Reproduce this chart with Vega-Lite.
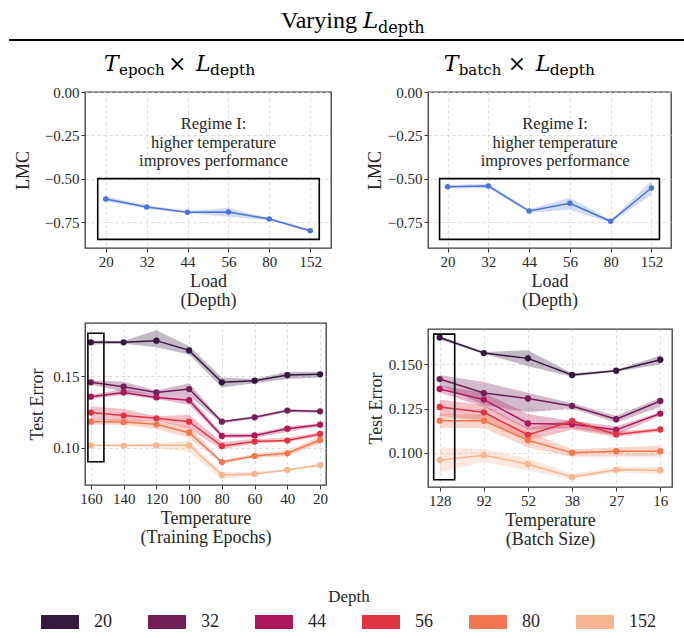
{
"$schema":"https://vega.github.io/schema/vega-lite/v6.json",
"background":"white",
"padding":{"left":8,"top":0,"right":0,"bottom":0},
"config":{
 "font":"Liberation Serif",
 "view":{"stroke":"#3a3a3a","strokeWidth":1.3},
 "axis":{"domain":false,"grid":true,"gridDash":[3,3],"gridColor":"#d0d0d0","gridWidth":0.8,"ticks":true,"tickSize":4,"tickColor":"#333","tickWidth":1,"labelFont":"Liberation Serif","labelFontSize":15,"labelColor":"#262626","labelPadding":2,"titleFont":"Liberation Serif","titleFontSize":18,"titleFontWeight":"normal","titleColor":"#262626","titleLineHeight":19,"titlePadding":3},
 "text":{"font":"Liberation Serif","color":"#1a1a1a"}
},
"datasets":{
 "lmcE":[
  {"d":20,"m":-0.617,"lo":-0.632,"hi":-0.602},
  {"d":32,"m":-0.664,"lo":-0.674,"hi":-0.654},
  {"d":44,"m":-0.694,"lo":-0.700,"hi":-0.688},
  {"d":56,"m":-0.692,"lo":-0.720,"hi":-0.668},
  {"d":80,"m":-0.733,"lo":-0.740,"hi":-0.727},
  {"d":152,"m":-0.800,"lo":-0.808,"hi":-0.792}],
 "lmcB":[
  {"d":20,"m":-0.546,"lo":-0.556,"hi":-0.536},
  {"d":32,"m":-0.542,"lo":-0.556,"hi":-0.530},
  {"d":44,"m":-0.687,"lo":-0.697,"hi":-0.677},
  {"d":56,"m":-0.642,"lo":-0.680,"hi":-0.610},
  {"d":80,"m":-0.746,"lo":-0.754,"hi":-0.738},
  {"d":152,"m":-0.554,"lo":-0.594,"hi":-0.512}],
 "errE":[
  {"d":20,"t":160,"m":0.1735,"lo":0.172,"hi":0.175},
  {"d":20,"t":140,"m":0.1735,"lo":0.1725,"hi":0.1745},
  {"d":20,"t":120,"m":0.1747,"lo":0.170,"hi":0.182},
  {"d":20,"t":100,"m":0.1679,"lo":0.165,"hi":0.171},
  {"d":20,"t":80,"m":0.1456,"lo":0.142,"hi":0.149},
  {"d":20,"t":60,"m":0.1468,"lo":0.145,"hi":0.148},
  {"d":20,"t":40,"m":0.1507,"lo":0.148,"hi":0.153},
  {"d":20,"t":20,"m":0.1512,"lo":0.149,"hi":0.153},
  {"d":32,"t":160,"m":0.1456,"lo":0.144,"hi":0.147},
  {"d":32,"t":140,"m":0.1426,"lo":0.139,"hi":0.146},
  {"d":32,"t":120,"m":0.1386,"lo":0.137,"hi":0.140},
  {"d":32,"t":100,"m":0.1409,"lo":0.136,"hi":0.145},
  {"d":32,"t":80,"m":0.1182,"lo":0.117,"hi":0.119},
  {"d":32,"t":60,"m":0.1212,"lo":0.120,"hi":0.122},
  {"d":32,"t":40,"m":0.1259,"lo":0.125,"hi":0.127},
  {"d":32,"t":20,"m":0.1254,"lo":0.124,"hi":0.126},
  {"d":44,"t":160,"m":0.1356,"lo":0.134,"hi":0.137},
  {"d":44,"t":140,"m":0.1386,"lo":0.137,"hi":0.141},
  {"d":44,"t":120,"m":0.1351,"lo":0.134,"hi":0.137},
  {"d":44,"t":100,"m":0.1331,"lo":0.130,"hi":0.136},
  {"d":44,"t":80,"m":0.1082,"lo":0.107,"hi":0.110},
  {"d":44,"t":60,"m":0.1086,"lo":0.107,"hi":0.110},
  {"d":44,"t":40,"m":0.1133,"lo":0.111,"hi":0.115},
  {"d":44,"t":20,"m":0.1161,"lo":0.115,"hi":0.117},
  {"d":56,"t":160,"m":0.1245,"lo":0.120,"hi":0.129},
  {"d":56,"t":140,"m":0.1224,"lo":0.118,"hi":0.127},
  {"d":56,"t":120,"m":0.1205,"lo":0.119,"hi":0.122},
  {"d":56,"t":100,"m":0.1182,"lo":0.113,"hi":0.123},
  {"d":56,"t":80,"m":0.1012,"lo":0.099,"hi":0.104},
  {"d":56,"t":60,"m":0.1043,"lo":0.103,"hi":0.106},
  {"d":56,"t":40,"m":0.1050,"lo":0.104,"hi":0.107},
  {"d":56,"t":20,"m":0.1096,"lo":0.108,"hi":0.111},
  {"d":80,"t":160,"m":0.1182,"lo":0.116,"hi":0.120},
  {"d":80,"t":140,"m":0.1179,"lo":0.116,"hi":0.120},
  {"d":80,"t":120,"m":0.1163,"lo":0.113,"hi":0.119},
  {"d":80,"t":100,"m":0.1105,"lo":0.107,"hi":0.115},
  {"d":80,"t":80,"m":0.0900,"lo":0.089,"hi":0.091},
  {"d":80,"t":60,"m":0.0942,"lo":0.093,"hi":0.096},
  {"d":80,"t":40,"m":0.0961,"lo":0.094,"hi":0.098},
  {"d":80,"t":20,"m":0.1054,"lo":0.103,"hi":0.108},
  {"d":152,"t":160,"m":0.1017,"lo":0.101,"hi":0.102},
  {"d":152,"t":140,"m":0.1015,"lo":0.101,"hi":0.102},
  {"d":152,"t":120,"m":0.1017,"lo":0.100,"hi":0.103},
  {"d":152,"t":100,"m":0.1017,"lo":0.097,"hi":0.105},
  {"d":152,"t":80,"m":0.0810,"lo":0.078,"hi":0.083},
  {"d":152,"t":60,"m":0.0817,"lo":0.081,"hi":0.083},
  {"d":152,"t":40,"m":0.0845,"lo":0.084,"hi":0.085},
  {"d":152,"t":20,"m":0.0879,"lo":0.087,"hi":0.089}],
 "errB":[
  {"d":20,"t":128,"m":0.1652,"lo":0.164,"hi":0.166},
  {"d":20,"t":92,"m":0.1564,"lo":0.156,"hi":0.157},
  {"d":20,"t":52,"m":0.1534,"lo":0.149,"hi":0.158},
  {"d":20,"t":38,"m":0.1440,"lo":0.143,"hi":0.145},
  {"d":20,"t":27,"m":0.1464,"lo":0.146,"hi":0.147},
  {"d":20,"t":16,"m":0.1526,"lo":0.150,"hi":0.155},
  {"d":32,"t":128,"m":0.1417,"lo":0.138,"hi":0.144},
  {"d":32,"t":92,"m":0.1338,"lo":0.127,"hi":0.140},
  {"d":32,"t":52,"m":0.1307,"lo":0.123,"hi":0.134},
  {"d":32,"t":38,"m":0.1265,"lo":0.125,"hi":0.128},
  {"d":32,"t":27,"m":0.1190,"lo":0.117,"hi":0.121},
  {"d":32,"t":16,"m":0.1293,"lo":0.126,"hi":0.131},
  {"d":44,"t":128,"m":0.1361,"lo":0.134,"hi":0.138},
  {"d":44,"t":92,"m":0.1301,"lo":0.126,"hi":0.134},
  {"d":44,"t":52,"m":0.1166,"lo":0.113,"hi":0.122},
  {"d":44,"t":38,"m":0.1162,"lo":0.114,"hi":0.118},
  {"d":44,"t":27,"m":0.1130,"lo":0.110,"hi":0.115},
  {"d":44,"t":16,"m":0.1222,"lo":0.121,"hi":0.123},
  {"d":56,"t":128,"m":0.1259,"lo":0.121,"hi":0.130},
  {"d":56,"t":92,"m":0.1229,"lo":0.118,"hi":0.127},
  {"d":56,"t":52,"m":0.1101,"lo":0.107,"hi":0.114},
  {"d":56,"t":38,"m":0.1180,"lo":0.113,"hi":0.119},
  {"d":56,"t":27,"m":0.1104,"lo":0.109,"hi":0.112},
  {"d":56,"t":16,"m":0.1132,"lo":0.112,"hi":0.114},
  {"d":80,"t":128,"m":0.1182,"lo":0.114,"hi":0.122},
  {"d":80,"t":92,"m":0.1182,"lo":0.114,"hi":0.122},
  {"d":80,"t":52,"m":0.1071,"lo":0.103,"hi":0.112},
  {"d":80,"t":38,"m":0.1000,"lo":0.098,"hi":0.102},
  {"d":80,"t":27,"m":0.1009,"lo":0.098,"hi":0.103},
  {"d":80,"t":16,"m":0.1009,"lo":0.098,"hi":0.104},
  {"d":152,"t":128,"m":0.0959,"lo":0.089,"hi":0.103},
  {"d":152,"t":92,"m":0.0987,"lo":0.095,"hi":0.102},
  {"d":152,"t":52,"m":0.0936,"lo":0.090,"hi":0.097},
  {"d":152,"t":38,"m":0.0863,"lo":0.085,"hi":0.088},
  {"d":152,"t":27,"m":0.0904,"lo":0.089,"hi":0.092},
  {"d":152,"t":16,"m":0.0902,"lo":0.088,"hi":0.092}]
},
"spacing":4,
"vconcat":[
 {
  "width":600,"height":80,
  "view":{"stroke":null},
  "data":{"values":[{}]},
  "layer":[
   {"mark":{"type":"rule","strokeWidth":2,"color":"black","xOffset":-76},
    "encoding":{"x":{"datum":0,"type":"quantitative","scale":{"domain":[0,1]},"axis":null},"x2":{"datum":1},
                "y":{"datum":0.5,"type":"quantitative","scale":{"domain":[0,1]},"axis":null}}},
   {"mark":{"type":"text","text":"Varying","font":"Liberation Serif","fontSize":24,"align":"right","baseline":"alphabetic","dx":-3,"color":"#000"},
    "encoding":{"x":{"datum":0.4583,"type":"quantitative"},"y":{"datum":0.65,"type":"quantitative"}}},
   {"mark":{"type":"text","text":"L","font":"DejaVu Serif","fontStyle":"italic","fontSize":23,"align":"left","baseline":"alphabetic","dx":3,"color":"#000"},
    "encoding":{"x":{"datum":0.4583,"type":"quantitative"},"y":{"datum":0.65,"type":"quantitative"}}},
   {"mark":{"type":"text","text":"depth","font":"DejaVu Serif","fontSize":16,"align":"left","baseline":"alphabetic","dx":18,"dy":5,"color":"#000"},
    "encoding":{"x":{"datum":0.4583,"type":"quantitative"},"y":{"datum":0.65,"type":"quantitative"}}},
   {"mark":{"type":"text","text":"T","font":"DejaVu Serif","fontStyle":"italic","fontSize":22,"align":"left","baseline":"alphabetic","dx":0,"color":"#000"},
    "encoding":{"x":{"datum":0.0317,"type":"quantitative"},"y":{"datum":0.1125,"type":"quantitative"}}},
   {"mark":{"type":"text","text":"epoch","font":"DejaVu Serif","fontSize":15,"align":"left","baseline":"alphabetic","dx":15,"dy":4,"color":"#000"},
    "encoding":{"x":{"datum":0.0317,"type":"quantitative"},"y":{"datum":0.1125,"type":"quantitative"}}},
   {"mark":{"type":"text","text":"×","font":"DejaVu Serif","fontSize":22,"align":"left","baseline":"alphabetic","dx":64,"color":"#000"},
    "encoding":{"x":{"datum":0.0317,"type":"quantitative"},"y":{"datum":0.1125,"type":"quantitative"}}},
   {"mark":{"type":"text","text":"L","font":"DejaVu Serif","fontStyle":"italic","fontSize":22,"align":"left","baseline":"alphabetic","dx":92,"color":"#000"},
    "encoding":{"x":{"datum":0.0317,"type":"quantitative"},"y":{"datum":0.1125,"type":"quantitative"}}},
   {"mark":{"type":"text","text":"depth","font":"DejaVu Serif","fontSize":15.5,"align":"left","baseline":"alphabetic","dx":106,"dy":4,"color":"#000"},
    "encoding":{"x":{"datum":0.0317,"type":"quantitative"},"y":{"datum":0.1125,"type":"quantitative"}}},
   {"mark":{"type":"text","text":"T","font":"DejaVu Serif","fontStyle":"italic","fontSize":22,"align":"left","baseline":"alphabetic","dx":0,"color":"#000"},
    "encoding":{"x":{"datum":0.5978,"type":"quantitative"},"y":{"datum":0.1125,"type":"quantitative"}}},
   {"mark":{"type":"text","text":"batch","font":"DejaVu Serif","fontSize":15,"align":"left","baseline":"alphabetic","dx":15,"dy":4,"color":"#000"},
    "encoding":{"x":{"datum":0.5978,"type":"quantitative"},"y":{"datum":0.1125,"type":"quantitative"}}},
   {"mark":{"type":"text","text":"×","font":"DejaVu Serif","fontSize":22,"align":"left","baseline":"alphabetic","dx":64,"color":"#000"},
    "encoding":{"x":{"datum":0.5978,"type":"quantitative"},"y":{"datum":0.1125,"type":"quantitative"}}},
   {"mark":{"type":"text","text":"L","font":"DejaVu Serif","fontStyle":"italic","fontSize":22,"align":"left","baseline":"alphabetic","dx":92,"color":"#000"},
    "encoding":{"x":{"datum":0.5978,"type":"quantitative"},"y":{"datum":0.1125,"type":"quantitative"}}},
   {"mark":{"type":"text","text":"depth","font":"DejaVu Serif","fontSize":15.5,"align":"left","baseline":"alphabetic","dx":106,"dy":4,"color":"#000"},
    "encoding":{"x":{"datum":0.5978,"type":"quantitative"},"y":{"datum":0.1125,"type":"quantitative"}}}
  ]
 },
 {
  "align":"none",
  "spacing":33,
  "hconcat":[
   {
    "spacing":12,
    "vconcat":[
     {
      "width":246,"height":156,
      "data":{"name":"lmcE"},
      "layer":[
       {"mark":{"type":"area","color":"#4a75d6","fillOpacity":0.25},
        "encoding":{
         "x":{"field":"d","type":"ordinal","scale":{"type":"point","domain":[20,32,44,56,80,152],"padding":0.507},"axis":{"title":["Load","(Depth)"],"labelAngle":0,"grid":true}},
         "y":{"field":"lo","type":"quantitative","scale":{"domain":[-0.9,0],"nice":false,"zero":false},"axis":{"title":"LMC","titlePadding":12,"values":[0,-0.25,-0.5,-0.75],"format":".2f"}},
         "y2":{"field":"hi"}}},
       {"mark":{"type":"line","color":"#4a75d6","strokeWidth":1.5},
        "encoding":{"x":{"field":"d","type":"ordinal"},"y":{"field":"m","type":"quantitative"}}},
       {"mark":{"type":"point","filled":true,"color":"#4a75d6","size":30,"opacity":1},
        "encoding":{"x":{"field":"d","type":"ordinal"},"y":{"field":"m","type":"quantitative"}}},
       {"data":{"values":[{}]},
        "mark":{"type":"rect","filled":false,"color":"black","strokeWidth":1.6,"xOffset":-8,"x2Offset":9},
        "encoding":{"x":{"datum":20,"type":"ordinal"},"x2":{"datum":152},"y":{"datum":-0.5,"type":"quantitative"},"y2":{"datum":-0.85}}},
       {"data":{"values":[{}]},
        "mark":{"type":"text","text":["Regime I:","higher temperature","improves performance"],"fontSize":16.5,"lineHeight":18.5,"dx":26,"baseline":"middle","align":"center","color":"#262626"},
        "encoding":{"x":{"datum":44,"type":"ordinal"},"y":{"datum":-0.186,"type":"quantitative"}}}
      ]
     },
     {
      "width":241,"height":162,
      "data":{"name":"errE"},
      "layer":[
       {"mark":{"type":"area","fillOpacity":0.3},
        "encoding":{
         "x":{"field":"t","type":"ordinal","scale":{"type":"point","domain":[160,140,120,100,80,60,40,20],"padding":0.18},"axis":{"title":["Temperature","(Training Epochs)"],"labelAngle":0,"grid":true}},
         "y":{"field":"lo","type":"quantitative","stack":null,"scale":{"domain":[0.074,0.187],"nice":false,"zero":false},"axis":{"title":"Test Error","titlePadding":6,"values":[0.10,0.15],"format":".2f"}},
         "y2":{"field":"hi"},
         "color":{"field":"d","type":"ordinal","scale":{"domain":[20,32,44,56,80,152],"range":["#35193e","#701f57","#ad1759","#e13342","#f37651","#f6b48f"]},
          "legend":{"title":"Depth","orient":"none","legendX":-44,"legendY":589,"direction":"horizontal","columns":6,"gridAlign":"all","columnPadding":27,"symbolType":"M-1,-0.368H1V0.368H-1Z","symbolSize":1444,"symbolStrokeWidth":0,"symbolOpacity":1,"labelFont":"Liberation Serif","labelFontSize":18,"labelOffset":15,"labelColor":"#262626","titleFont":"Liberation Serif","titleFontSize":17,"titleFontWeight":"normal","titleColor":"#262626","titleAnchor":"middle","titlePadding":-3}}}},
       {"mark":{"type":"line","strokeWidth":1.5},
        "encoding":{"x":{"field":"t","type":"ordinal"},"y":{"field":"m","type":"quantitative"},"color":{"field":"d","type":"ordinal"}}},
       {"mark":{"type":"point","filled":true,"size":40,"opacity":1},
        "encoding":{"x":{"field":"t","type":"ordinal"},"y":{"field":"m","type":"quantitative"},"color":{"field":"d","type":"ordinal"}}},
       {"data":{"values":[{}]},
        "mark":{"type":"rect","filled":false,"color":"black","strokeWidth":1.6,"xOffset":-3,"x2Offset":13},
        "encoding":{"x":{"datum":160,"type":"ordinal"},"x2":{"datum":160},"y":{"datum":0.0902,"type":"quantitative"},"y2":{"datum":0.1798}}}
      ]
     }
    ]
   },
   {
    "spacing":18,
    "vconcat":[
     {
      "width":243,"height":156,
      "data":{"name":"lmcB"},
      "layer":[
       {"mark":{"type":"area","color":"#4a75d6","fillOpacity":0.25},
        "encoding":{
         "x":{"field":"d","type":"ordinal","scale":{"type":"point","domain":[20,32,44,56,80,152],"padding":0.48},"axis":{"title":["Load","(Depth)"],"labelAngle":0,"grid":true}},
         "y":{"field":"lo","type":"quantitative","scale":{"domain":[-0.9,0],"nice":false,"zero":false},"axis":{"title":"LMC","titlePadding":3,"values":[0,-0.25,-0.5,-0.75],"format":".2f"}},
         "y2":{"field":"hi"}}},
       {"mark":{"type":"line","color":"#4a75d6","strokeWidth":1.5},
        "encoding":{"x":{"field":"d","type":"ordinal"},"y":{"field":"m","type":"quantitative"}}},
       {"mark":{"type":"point","filled":true,"color":"#4a75d6","size":30,"opacity":1},
        "encoding":{"x":{"field":"d","type":"ordinal"},"y":{"field":"m","type":"quantitative"}}},
       {"data":{"values":[{}]},
        "mark":{"type":"rect","filled":false,"color":"black","strokeWidth":1.6,"xOffset":-8,"x2Offset":8},
        "encoding":{"x":{"datum":20,"type":"ordinal"},"x2":{"datum":152},"y":{"datum":-0.5,"type":"quantitative"},"y2":{"datum":-0.85}}},
       {"data":{"values":[{}]},
        "mark":{"type":"text","text":["Regime I:","higher temperature","improves performance"],"fontSize":16.5,"lineHeight":18.5,"dx":26,"baseline":"middle","align":"center","color":"#262626"},
        "encoding":{"x":{"datum":44,"type":"ordinal"},"y":{"datum":-0.186,"type":"quantitative"}}}
      ]
     },
     {
      "width":244,"height":158,
      "data":{"name":"errB"},
      "layer":[
       {"mark":{"type":"area","fillOpacity":0.3},
        "encoding":{
         "x":{"field":"t","type":"ordinal","scale":{"type":"point","domain":[128,92,52,38,27,16],"padding":0.265},"axis":{"title":["Temperature","(Batch Size)"],"labelAngle":0,"grid":true}},
         "y":{"field":"lo","type":"quantitative","stack":null,"scale":{"domain":[0.0807,0.170],"nice":false,"zero":false},"axis":{"title":"Test Error","titlePadding":3,"values":[0.100,0.125,0.150],"format":".3f"}},
         "y2":{"field":"hi"},
         "color":{"field":"d","type":"ordinal"}}},
       {"mark":{"type":"line","strokeWidth":1.5},
        "encoding":{"x":{"field":"t","type":"ordinal"},"y":{"field":"m","type":"quantitative"},"color":{"field":"d","type":"ordinal"}}},
       {"mark":{"type":"point","filled":true,"size":40,"opacity":1},
        "encoding":{"x":{"field":"t","type":"ordinal"},"y":{"field":"m","type":"quantitative"},"color":{"field":"d","type":"ordinal"}}},
       {"data":{"values":[{}]},
        "mark":{"type":"rect","filled":false,"color":"black","strokeWidth":1.6,"xOffset":-6,"x2Offset":15},
        "encoding":{"x":{"datum":128,"type":"ordinal"},"x2":{"datum":128},"y":{"datum":0.0848,"type":"quantitative"},"y2":{"datum":0.1671}}}
      ]
     }
    ]
   }
  ]
 }
]
}
